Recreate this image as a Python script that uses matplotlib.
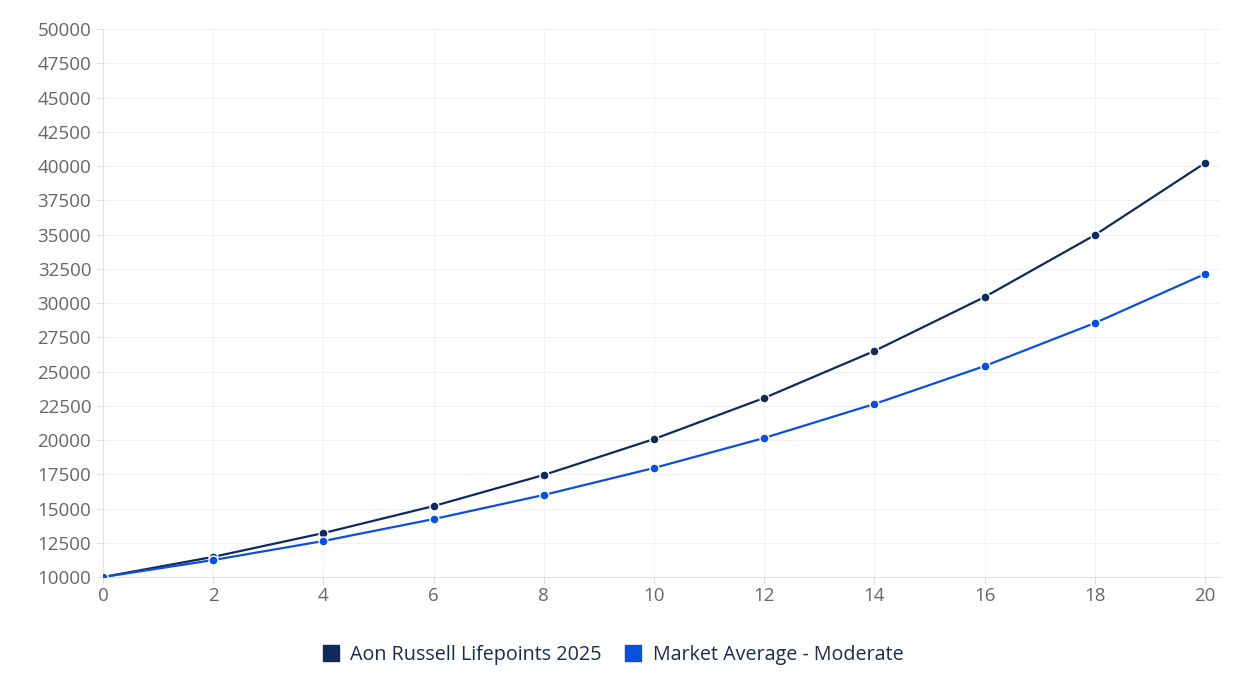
import matplotlib.pyplot as plt
from matplotlib.lines import Line2D

years = [0, 2, 4, 6, 8, 10, 12, 14, 16, 18, 20]
aon = [10000, 11470, 13210, 15180, 17450, 20070, 23070, 26500, 30440, 34960, 40220]
market = [10000, 11240, 12630, 14230, 15990, 17960, 20150, 22630, 25400, 28540, 32120]
yticks = list(range(10000, 50001, 2500))

navy = '#0f2a5c'
blue = '#0b4fe0'
grid_c = '#f1f1f1'

plt.rcParams['font.family'] = ['Open Sans', 'DejaVu Sans']

fig = plt.figure(figsize=(12.52, 6.84), dpi=100)
ax = fig.add_axes([0.0823, 0.1564, 0.8921, 0.8012])

ax.plot(years, aon, color=navy, lw=1.6, marker='o', ms=6.5,
        mfc=navy, mec='white', mew=1.0, zorder=3)
ax.plot(years, market, color=blue, lw=1.6, marker='o', ms=6.5,
        mfc=blue, mec='white', mew=1.0, zorder=3)

ax.set_xlim(0, 20.27)
ax.set_ylim(10000, 50000)
ax.set_xticks(years)
ax.set_yticks(yticks)
ax.grid(True, color=grid_c, lw=0.8)
for s in ['top', 'right']:
    ax.spines[s].set_visible(False)
for s in ['left', 'bottom']:
    ax.spines[s].set_color('#e0e0e0')
ax.tick_params(colors='#e0e0e0', labelcolor='#666666', labelsize=13.5, length=5)
ax.tick_params(axis='x', pad=2)

handles = [Line2D([], [], ls='none', marker='s', ms=11, color=navy),
           Line2D([], [], ls='none', marker='s', ms=11, color=blue)]
fig.legend(handles, ['Aon Russell Lifepoints 2025', 'Market Average - Moderate'],
           loc='center', bbox_to_anchor=(0.4852, 0.043), ncol=2, frameon=False,
           fontsize=14.2, handletextpad=0.0, columnspacing=0.6, labelcolor='#1a2b4c')

fig.savefig('out.png')
